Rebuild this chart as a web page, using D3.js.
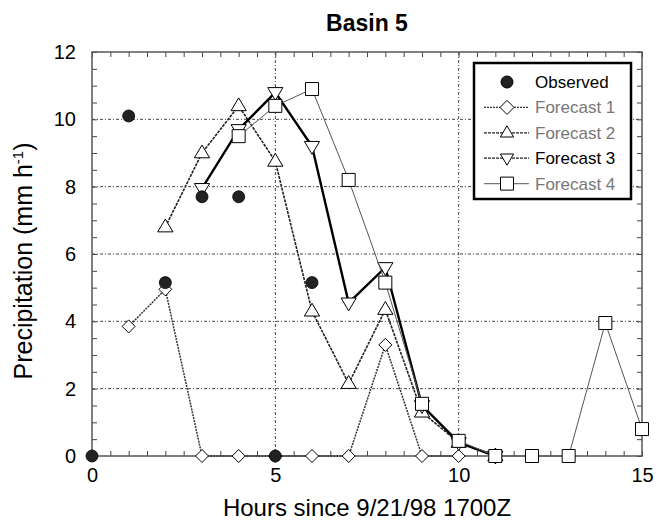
<!DOCTYPE html>
<html>
<head>
<meta charset="utf-8">
<script src="https://cdn.jsdelivr.net/npm/d3@7"></script>
<style>
  body { margin: 0; background: #fff; }
  svg { font-family: "Liberation Sans", Arial, sans-serif; }
</style>
</head>
<body>
<svg id="chart" width="658" height="524"></svg>
<script>
// data
const obsHours = [0, 1, 2, 3, 4, 5, 6];
const obsValues = [0, 10.1, 5.15, 7.7, 7.7, 0, 5.15];

const f1Hours = [1, 2, 3, 4, 5, 6, 7, 8, 9, 10];
const f1Values = [3.85, 4.95, 0, 0, 0, 0, 0, 3.3, 0, 0];

const f2Hours = [2, 3, 4, 5, 6, 7, 8, 9, 10, 11];
const f2Values = [6.8, 9.0, 10.4, 8.75, 4.3, 2.15, 4.35, 1.3, 0.4, 0];

const f3Hours = [3, 4, 5, 6, 7, 8, 9, 10, 11];
const f3Values = [7.95, 9.7, 10.8, 9.2, 4.55, 5.6, 1.5, 0.4, 0];

const f4Hours = [4, 5, 6, 7, 8, 9, 10, 11, 12, 13, 14, 15];
const f4Values = [9.5, 10.4, 10.9, 8.2, 5.15, 1.55, 0.45, 0, 0, 0, 3.95, 0.8];

const xMajor = [0, 5, 10, 15];
const yMajor = [0, 2, 4, 6, 8, 10, 12];
const legendLabels = ["Observed", "Forecast 1", "Forecast 2", "Forecast 3", "Forecast 4"];

// layout
const svg = d3.select("#chart");
const margin = { top: 52, right: 16, bottom: 68, left: 92 };
const width = +svg.attr("width") - margin.left - margin.right;
const height = +svg.attr("height") - margin.top - margin.bottom;
const g = svg.append("g").attr("transform", `translate(${margin.left},${margin.top})`);

const x = d3.scaleLinear().domain([0, 15]).range([0, width]);
const y = d3.scaleLinear().domain([0, 12]).range([height, 0]);

// 마커 모양
const markerPath = {
    circle: r => `M${-r},0A${r},${r} 0 1,0 ${r},0A${r},${r} 0 1,0 ${-r},0Z`,
    diamond: r => `M0,${-r}L${r},0L0,${r}L${-r},0Z`,
    up: r => `M0,${-r}L${r * 0.95},${r * 0.6}L${-r * 0.95},${r * 0.6}Z`,
    down: r => `M0,${r}L${r * 0.95},${-r * 0.6}L${-r * 0.95},${-r * 0.6}Z`,
    square: r => `M${-r},${-r}H${r}V${r}H${-r}Z`
};

// grid lines
g.selectAll(".ygrid")
    .data(yMajor.filter(d => d > 0 && d < 12))
    .enter().append("line")
    .attr("x1", 0).attr("x2", width)
    .attr("y1", d => y(d)).attr("y2", d => y(d))
    .attr("stroke", "#444").attr("stroke-width", 1)
    .attr("stroke-dasharray", "3,2,1,2");

g.selectAll(".xgrid")
    .data(xMajor.filter(d => d > 0 && d < 15))
    .enter().append("line")
    .attr("y1", 0).attr("y2", height)
    .attr("x1", d => x(d)).attr("x2", d => x(d))
    .attr("stroke", "#444").attr("stroke-width", 1)
    .attr("stroke-dasharray", "3,2,1,2");

// axes with inward ticks on all four sides
const xMinor = d3.range(0, 15.01, 0.5);
const yMinor = d3.range(0, 12.01, 0.5);

g.append("g")
    .attr("transform", `translate(0,${height})`)
    .call(d3.axisTop(x).tickValues(xMinor).tickSize(5).tickFormat(""))
    .call(a => a.select(".domain").remove());
g.append("g")
    .call(d3.axisBottom(x).tickValues(xMinor).tickSize(5).tickFormat(""))
    .call(a => a.select(".domain").remove());
g.append("g")
    .call(d3.axisRight(y).tickValues(yMinor).tickSize(5).tickFormat(""))
    .call(a => a.select(".domain").remove());
g.append("g")
    .attr("transform", `translate(${width},0)`)
    .call(d3.axisLeft(y).tickValues(yMinor).tickSize(5).tickFormat(""))
    .call(a => a.select(".domain").remove());
g.selectAll(".tick line").attr("stroke", "#444");

g.append("rect")
    .attr("width", width).attr("height", height)
    .attr("fill", "none").attr("stroke", "#555").attr("stroke-width", 1.5);

// tick labels
const xAxis = g.append("g")
    .attr("transform", `translate(0,${height})`)
    .call(d3.axisBottom(x).tickValues(xMajor).tickSize(0).tickPadding(12).tickFormat(d3.format("d")));
const yAxis = g.append("g")
    .call(d3.axisLeft(y).tickValues(yMajor).tickSize(0).tickPadding(16).tickFormat(d3.format("d")));
[xAxis, yAxis].forEach(a => {
    a.select(".domain").remove();
    a.selectAll("text").attr("font-size", "20px").attr("fill", "#000")
        .attr("font-family", "Liberation Sans, Arial, sans-serif");
});

// series
const series = [
    { hours: f1Hours, values: f1Values, shape: "diamond", r: 6.5, color: "#333", width: 1.5, dash: "2,1" },
    { hours: f2Hours, values: f2Values, shape: "up", r: 8, color: "#222", width: 1.6, dash: "3,1" },
    { hours: f3Hours, values: f3Values, shape: "down", r: 8, color: "#000", width: 2.4, dash: null },
    { hours: f4Hours, values: f4Values, shape: "square", r: 6.5, color: "#555", width: 1, dash: null }
];

const line = d3.line().x(d => x(d[0])).y(d => y(d[1]));

series.forEach(s => {
    const pts = s.hours.map((h, i) => [h, s.values[i]]);
    g.append("path")
        .attr("d", line(pts))
        .attr("fill", "none")
        .attr("stroke", s.color)
        .attr("stroke-width", s.width)
        .attr("stroke-dasharray", s.dash);
    g.selectAll(null)
        .data(pts)
        .enter().append("path")
        .attr("transform", d => `translate(${x(d[0])},${y(d[1])})`)
        .attr("d", markerPath[s.shape](s.r))
        .attr("fill", "#fff")
        .attr("stroke", "#000")
        .attr("stroke-width", 1);
});

// observed points
g.selectAll(".obs")
    .data(obsHours.map((h, i) => [h, obsValues[i]]))
    .enter().append("circle")
    .attr("cx", d => x(d[0]))
    .attr("cy", d => y(d[1]))
    .attr("r", 6)
    .attr("fill", "#222")
    .attr("stroke", "#000")
    .attr("stroke-width", 0.8);

// legend
const legend = svg.append("g").attr("transform", "translate(474,63)");
legend.append("rect")
    .attr("width", 157).attr("height", 136)
    .attr("fill", "#fff").attr("stroke", "#000").attr("stroke-width", 2.5);

const legendStyle = [
    { shape: "circle", color: "#000", text: "#000", dash: null, line: false },
    { shape: "diamond", color: "#333", text: "#777", dash: "2,1", line: true },
    { shape: "up", color: "#222", text: "#777", dash: "3,1", line: true },
    { shape: "down", color: "#222", text: "#000", dash: "3,1", line: true },
    { shape: "square", color: "#777", text: "#777", dash: null, line: true }
];

legendLabels.forEach((label, i) => {
    const st = legendStyle[i];
    const row = legend.append("g").attr("transform", `translate(0,${19 + i * 25.4})`);
    if (st.line) {
        row.append("line")
            .attr("x1", 10).attr("x2", 55)
            .attr("stroke", st.color).attr("stroke-width", 1.2)
            .attr("stroke-dasharray", st.dash);
    }
    row.append("path")
        .attr("transform", "translate(33,0)")
        .attr("d", markerPath[st.shape](st.shape === "circle" ? 6 : st.shape === "square" ? 6.5 : 7))
        .attr("fill", st.shape === "circle" ? "#222" : "#fff")
        .attr("stroke", "#000").attr("stroke-width", 1);
    row.append("text")
        .attr("x", 61).attr("y", 6)
        .attr("font-size", "17px")
        .attr("fill", st.text)
        .text(label);
});

// titles
svg.append("text")
    .attr("x", margin.left + width / 2).attr("y", 31)
    .attr("text-anchor", "middle")
    .attr("font-size", "23px").attr("font-weight", "bold")
    .text("Basin 5");

svg.append("text")
    .attr("x", margin.left + width / 2).attr("y", 516)
    .attr("text-anchor", "middle")
    .attr("font-size", "24px")
    .text("Hours since 9/21/98 1700Z");

const yTitle = svg.append("text")
    .attr("transform", `translate(32,${margin.top + height / 2 + 7}) rotate(-90)`)
    .attr("text-anchor", "middle")
    .attr("font-size", "25px");
yTitle.append("tspan").text("Precipitation (mm h");
yTitle.append("tspan").attr("dy", -9).attr("font-size", "15px").text("-1");
yTitle.append("tspan").attr("dy", 9).text(")");
</script>
</body>
</html>
